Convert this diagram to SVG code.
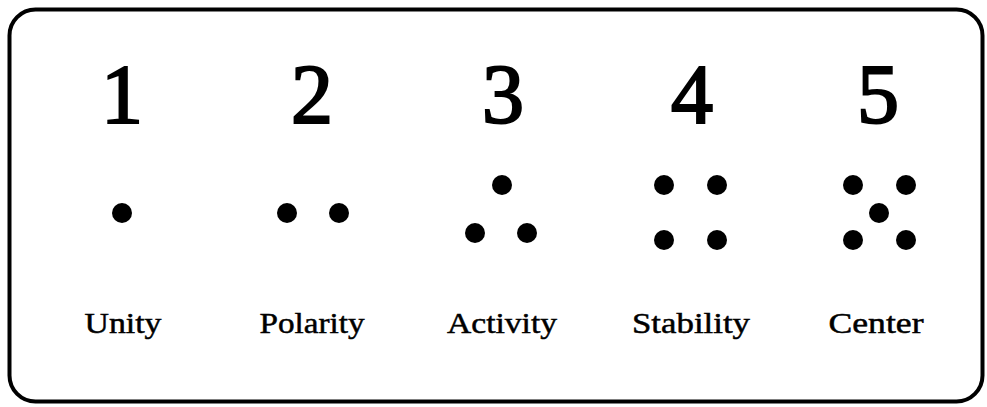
<svg xmlns="http://www.w3.org/2000/svg" width="987" height="407" viewBox="0 0 987 407">
<style>
.num{font-family:"Liberation Serif",serif;font-size:84px;text-anchor:middle;fill:#000;stroke:#000;stroke-width:2.2px}
.lab{font-family:"Liberation Serif",serif;font-size:30px;text-anchor:middle;fill:#000;stroke:#000;stroke-width:0.5px}
.dot{fill:#000}
</style>
<rect x="9.5" y="9.5" width="973" height="392" rx="26" ry="26" fill="#fff" stroke="#000" stroke-width="4"/>
<g id="n1">
<text class="num" x="122" y="123">1</text>
<circle class="dot" cx="122" cy="213" r="10"/>
<text class="lab" x="123" y="333" textLength="77" lengthAdjust="spacingAndGlyphs">Unity</text>
</g>
<g id="n2">
<text class="num" x="312" y="123">2</text>
<circle class="dot" cx="287" cy="213" r="10"/>
<circle class="dot" cx="339" cy="213" r="10"/>
<text class="lab" x="312" y="333" textLength="105" lengthAdjust="spacingAndGlyphs">Polarity</text>
</g>
<g id="n3">
<text class="num" x="503" y="123">3</text>
<circle class="dot" cx="502" cy="185" r="10"/>
<circle class="dot" cx="475" cy="233" r="10"/>
<circle class="dot" cx="527" cy="233" r="10"/>
<text class="lab" x="502" y="333" textLength="110" lengthAdjust="spacingAndGlyphs">Activity</text>
</g>
<g id="n4">
<text class="num" x="692" y="123">4</text>
<circle class="dot" cx="664" cy="185" r="10"/>
<circle class="dot" cx="717" cy="185" r="10"/>
<circle class="dot" cx="664" cy="240" r="10"/>
<circle class="dot" cx="717" cy="240" r="10"/>
<text class="lab" x="691" y="333" textLength="118" lengthAdjust="spacingAndGlyphs">Stability</text>
</g>
<g id="n5">
<text class="num" x="878" y="123">5</text>
<circle class="dot" cx="853" cy="185" r="10"/>
<circle class="dot" cx="906" cy="185" r="10"/>
<circle class="dot" cx="879" cy="213" r="10"/>
<circle class="dot" cx="853" cy="240" r="10"/>
<circle class="dot" cx="906" cy="240" r="10"/>
<text class="lab" x="876" y="333" textLength="95" lengthAdjust="spacingAndGlyphs">Center</text>
</g>
<g id="connectors"/>
</svg>
